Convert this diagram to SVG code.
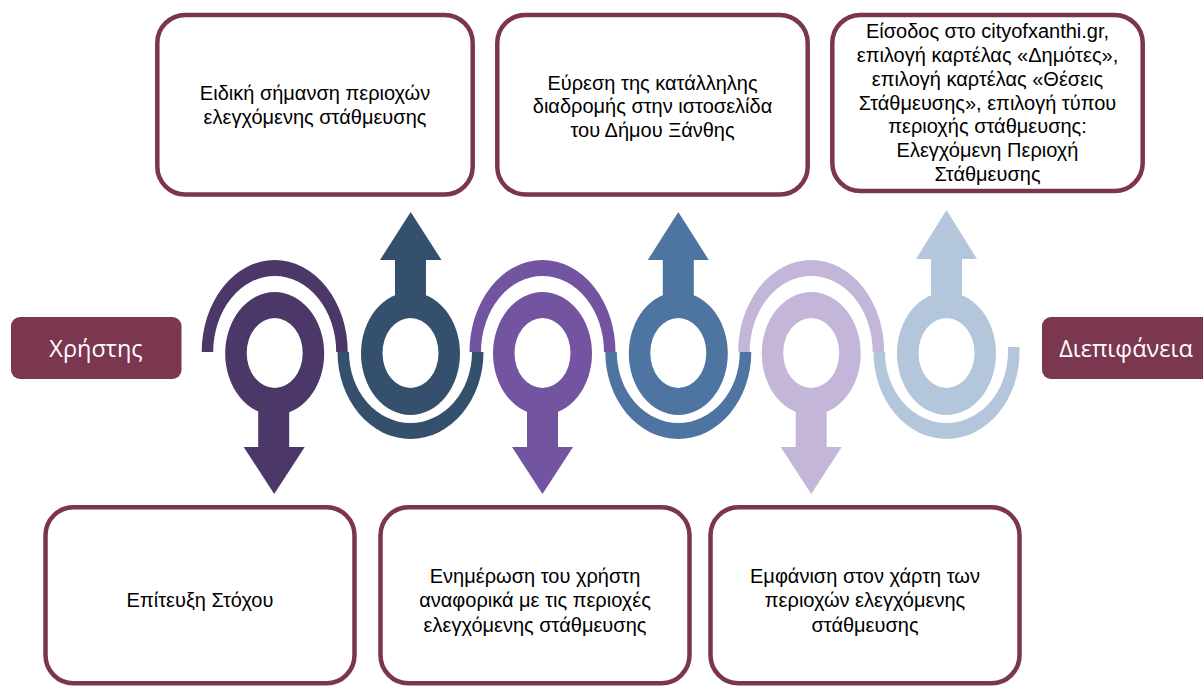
<svg xmlns="http://www.w3.org/2000/svg" width="1203" height="687" viewBox="0 0 1203 687">
<style>
.box{fill:#fff;stroke:#7B3550;stroke-width:4.5}
.lbl{fill:#7B3650}
.t{font-family:"Liberation Sans",Arial,sans-serif;font-size:20px;fill:#000;text-anchor:middle}
.lt{font-family:"Open Sans","Noto Sans",sans-serif;font-size:23.5px;fill:#fff;text-anchor:middle}
.c1{fill:#4B3869}.c2{fill:#35506D}.c3{fill:#7354A0}.c4{fill:#4E74A2}.c5{fill:#C4B6D9}.c6{fill:#B3C6DC}
</style>
<rect width="1203" height="687" fill="#fff"/>
<g id="connectors">
<path class="c1" d="M201.7,352 A73,92 0 0 1 347.7,352 L336.2,352 A61.5,76 0 0 0 213.2,352 Z"/>
<path class="c2" d="M337.5,352 A73,87 0 0 0 483.5,352 L472,352 A61.5,71 0 0 1 349,352 Z"/>
<path class="c3" d="M469.5,352 A73,92 0 0 1 615.5,352 L604,352 A61.5,76 0 0 0 481,352 Z"/>
<path class="c4" d="M605.3,352 A73,87 0 0 0 751.3,352 L739.8,352 A61.5,71 0 0 1 616.8,352 Z"/>
<path class="c5" d="M738.2,352 A73,92 0 0 1 884.2,352 L872.7,352 A61.5,76 0 0 0 749.7,352 Z"/>
<path class="c6" d="M873.5,352 A73,87 0 0 0 1019.5,352 L1019.5,347 L1008,347 L1008,352 A61.5,71 0 0 1 885,352 Z"/>
</g>
<g id="step1">
<path class="c1" fill-rule="evenodd" d="M225.2,353.5 a49.5,61.5 0 1 0 99,0 a49.5,61.5 0 1 0 -99,0 Z M246.7,353 a28,35 0 1 0 56,0 a28,35 0 1 0 -56,0 Z"/>
<rect class="c1" x="258.2" y="405" width="31" height="42"/>
<polygon class="c1" points="243.7,447 304.7,447 274.2,494"/>
</g>
<g id="step2">
<path class="c2" fill-rule="evenodd" d="M361,353.5 a49.5,61.5 0 1 0 99,0 a49.5,61.5 0 1 0 -99,0 Z M382.5,353 a28,35 0 1 0 56,0 a28,35 0 1 0 -56,0 Z"/>
<rect class="c2" x="395" y="259" width="31" height="42"/>
<polygon class="c2" points="380,260 441.5,260 410.7,212"/>
</g>
<g id="step3">
<path class="c3" fill-rule="evenodd" d="M493,353.5 a49.5,61.5 0 1 0 99,0 a49.5,61.5 0 1 0 -99,0 Z M514.5,353 a28,35 0 1 0 56,0 a28,35 0 1 0 -56,0 Z"/>
<rect class="c3" x="527" y="405" width="31" height="42"/>
<polygon class="c3" points="512,447 573,447 542.5,494"/>
</g>
<g id="step4">
<path class="c4" fill-rule="evenodd" d="M628.8,353.5 a49.5,61.5 0 1 0 99,0 a49.5,61.5 0 1 0 -99,0 Z M650.3,353 a28,35 0 1 0 56,0 a28,35 0 1 0 -56,0 Z"/>
<rect class="c4" x="662.8" y="259" width="31" height="42"/>
<polygon class="c4" points="647.8,260 708.8,260 678.3,212"/>
</g>
<g id="step5">
<path class="c5" fill-rule="evenodd" d="M761.7,353.5 a49.5,61.5 0 1 0 99,0 a49.5,61.5 0 1 0 -99,0 Z M783.2,353 a28,35 0 1 0 56,0 a28,35 0 1 0 -56,0 Z"/>
<rect class="c5" x="795.7" y="405" width="31" height="42"/>
<polygon class="c5" points="780.7,447 841.7,447 811.2,494"/>
</g>
<g id="step6">
<path class="c6" fill-rule="evenodd" d="M897,353.5 a49.5,61.5 0 1 0 99,0 a49.5,61.5 0 1 0 -99,0 Z M918.5,353 a28,35 0 1 0 56,0 a28,35 0 1 0 -56,0 Z"/>
<rect class="c6" x="931" y="258" width="31" height="43"/>
<polygon class="c6" points="916,259 977,259 946.5,210"/>
</g>
<g id="user">
<rect class="lbl" x="11" y="317" width="170.5" height="62" rx="9"/>
<text class="lt" x="96" y="357">Χρήστης</text>
</g>
<g id="interface">
<rect class="lbl" x="1042" y="317" width="175" height="62" rx="9"/>
<text class="lt" x="1126" y="357">Διεπιφάνεια</text>
</g>
<g id="box-top1">
<rect class="box" x="157.3" y="15" width="315.4" height="179.5" rx="28"/>
<text class="t" x="315" y="100">Ειδική σήμανση περιοχών</text>
<text class="t" x="315" y="124">ελεγχόμενης στάθμευσης</text>
</g>
<g id="box-top2">
<rect class="box" x="497.3" y="15" width="310.4" height="179.5" rx="28"/>
<text class="t" x="652.5" y="89.5">Εύρεση της κατάλληλης</text>
<text class="t" x="652.5" y="113.3">διαδρομής στην ιστοσελίδα</text>
<text class="t" x="652.5" y="137">του Δήμου Ξάνθης</text>
</g>
<g id="box-top3">
<rect class="box" x="832.3" y="15" width="310.4" height="176" rx="28"/>
<text class="t" x="987.5" y="37.5">Είσοδος στο cityofxanthi.gr,</text>
<text class="t" x="987.5" y="61.5">επιλογή καρτέλας «Δημότες»,</text>
<text class="t" x="987.5" y="85.5">επιλογή καρτέλας «Θέσεις</text>
<text class="t" x="987.5" y="109.5">Στάθμευσης», επιλογή τύπου</text>
<text class="t" x="987.5" y="133.3">περιοχής στάθμευσης:</text>
<text class="t" x="987.5" y="157">Ελεγχόμενη Περιοχή</text>
<text class="t" x="987.5" y="181">Στάθμευσης</text>
</g>
<g id="box-bottom1">
<rect class="box" x="45.5" y="507.3" width="309" height="176" rx="28"/>
<text class="t" x="200" y="606.7">Επίτευξη Στόχου</text>
</g>
<g id="box-bottom2">
<rect class="box" x="380.5" y="507.3" width="309" height="176" rx="28"/>
<text class="t" x="535" y="583.3">Ενημέρωση του χρήστη</text>
<text class="t" x="535" y="607.3">αναφορικά με τις περιοχές</text>
<text class="t" x="535" y="631.5">ελεγχόμενης στάθμευσης</text>
</g>
<g id="box-bottom3">
<rect class="box" x="710.5" y="507.3" width="309" height="176" rx="28"/>
<text class="t" x="865" y="582.5">Εμφάνιση στον χάρτη των</text>
<text class="t" x="865" y="606.7">περιοχών ελεγχόμενης</text>
<text class="t" x="865" y="631.5">στάθμευσης</text>
</g>
</svg>
